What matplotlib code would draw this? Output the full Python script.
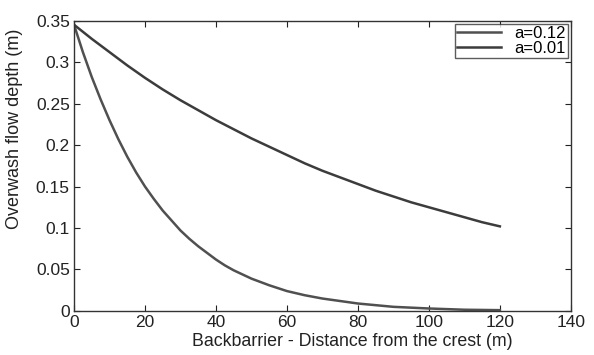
import matplotlib
matplotlib.use("Agg")
import matplotlib.pyplot as plt

plt.rcParams['font.family'] = ['Liberation Sans', 'DejaVu Sans']

# a = 0.12 curve (steep decay)
x_fast = [0, 2.5, 5, 7.5, 10, 12.5, 15, 17.5, 20, 22.5, 25, 27.5, 30, 32.5, 35,
          37.5, 40, 42.5, 45, 47.5, 50, 55, 60, 65, 70, 75, 80, 85, 90, 95,
          100, 110, 120]
y_fast = [0.345, 0.312, 0.282, 0.255, 0.230, 0.207, 0.186, 0.167, 0.150, 0.135,
          0.121, 0.109, 0.097, 0.087, 0.078, 0.070, 0.062, 0.055, 0.049, 0.044,
          0.039, 0.031, 0.024, 0.019, 0.015, 0.012, 0.009, 0.007, 0.005, 0.004,
          0.003, 0.0015, 0.001]

# a = 0.01 curve (slow decay)
x_slow = [0, 5, 10, 15, 20, 25, 30, 35, 40, 45, 50, 55, 60, 65, 70, 75, 80, 85,
          90, 95, 100, 105, 110, 115, 120]
y_slow = [0.345, 0.328, 0.312, 0.296, 0.281, 0.267, 0.254, 0.242, 0.230, 0.219,
          0.208, 0.198, 0.188, 0.178, 0.169, 0.161, 0.153, 0.145, 0.138, 0.131,
          0.125, 0.119, 0.113, 0.107, 0.102]

labels = ['a=0.12', 'a=0.01']
x_ticks = [0, 20, 40, 60, 80, 100, 120, 140]
y_ticks = [0, 0.05, 0.1, 0.15, 0.2, 0.25, 0.3, 0.35]
y_ticklabels = ['0', '0.05', '0.1', '0.15', '0.2', '0.25', '0.3', '0.35']

fig = plt.figure(figsize=(5.94, 3.55), dpi=100)
ax = fig.add_axes([0.1246, 0.124, 0.8364, 0.818])

ax.plot(x_fast, y_fast, color='#505050', linewidth=1.8, label=labels[0],
        solid_joinstyle='round')
ax.plot(x_slow, y_slow, color='#3c3c3c', linewidth=1.8, label=labels[1],
        solid_joinstyle='round')

ax.set_xlim(0, 140)
ax.set_ylim(0, 0.35)
ax.set_xticks(x_ticks)
ax.set_yticks(y_ticks)
ax.set_yticklabels(y_ticklabels)
ax.tick_params(direction='in', top=True, right=True, length=4,
               labelsize=12.5, colors='#222222', pad=3)
for s in ax.spines.values():
    s.set_color('#333333')
    s.set_linewidth(1.0)

ax.set_xlabel('Backbarrier - Distance from the crest (m)', fontsize=12.8,
              color='#222222', labelpad=0)
ax.xaxis.set_label_coords(0.561, -0.075)
ax.set_ylabel('Overwash flow depth (m)', fontsize=13, color='#222222')
ax.yaxis.set_label_coords(-0.103, 0.627)

leg = ax.legend(loc='upper right', fontsize=12, frameon=True, fancybox=False,
                edgecolor='#333333', borderpad=0.12, labelspacing=0.0,
                handlelength=2.6, handletextpad=0.8, borderaxespad=0.2)
leg.get_frame().set_linewidth(1.0)

fig.savefig('out.png', dpi=100)
